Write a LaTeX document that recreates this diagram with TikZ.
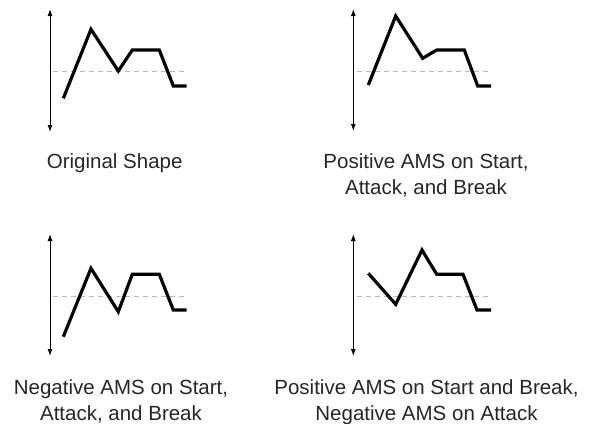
\documentclass[tikz,border=0pt]{standalone}
\usepackage{fontspec}
\setmainfont{Liberation Sans}
\usetikzlibrary{arrows.meta}

\begin{document}
\begin{tikzpicture}[x=1pt, y=-1pt,
    axis/.style={line width=1pt, {Latex[length=7pt,width=5pt]}-{Latex[length=7pt,width=5pt]}},
    level/.style={gray!55, line width=0.9pt, dash pattern=on 5pt off 4pt},
    envline/.style={line width=3.2pt, line join=miter},
    caption/.style={align=center, font=\fontsize{20.5}{26}\selectfont, inner sep=0pt, anchor=north, text=black!85}]
  \useasboundingbox (0,0) rectangle (591,423);

  % top left : original shape
  \draw[axis] (50,9) -- (50,132);
  \draw[level] (53,71) -- (187,71);
  \draw[envline] (63.3,98.3) -- (91,29.3) -- (118.3,71) -- (132.3,50)
       -- (159.3,50) -- (173.3,86) -- (186.5,86);
  \node[caption] (orig) at (114.7,153) {Original Shape};

  % top right : positive AMS on start, attack and break
  \draw[axis] (353.3,9) -- (353.3,131);
  \draw[level] (357,71) -- (491,71);
  \draw[envline] (368.3,85) -- (395.7,16) -- (422.7,58.3) -- (436.7,50)
       -- (464.3,50) -- (477.7,86) -- (491,86);
  \node[caption] (posall) at (426,153) {Positive AMS on Start,\\Attack, and Break};

  % bottom left : negative AMS on start, attack and break
  \draw[axis] (50,234) -- (50,356);
  \draw[level] (53,296.7) -- (187,296.7);
  \draw[envline] (63.3,336.7) -- (91,268.3) -- (118.3,311.7) -- (132.3,274.3)
       -- (159.3,274.3) -- (173.3,310) -- (186.5,310);
  \node[caption] (negall) at (121,379) {Negative AMS on Start,\\Attack, and Break};

  % bottom right : positive on start and break, negative on attack
  \draw[axis] (353.3,234) -- (353.3,356);
  \draw[level] (357,296.7) -- (491,296.7);
  \draw[envline] (368.3,273.3) -- (395.7,304.3) -- (422,250) -- (436.7,274.3)
       -- (463,274.3) -- (477,310) -- (491,310);
  \node[caption] (mixed) at (426.5,379) {Positive AMS on Start and Break,\\Negative AMS on Attack};
\end{tikzpicture}
\end{document}
